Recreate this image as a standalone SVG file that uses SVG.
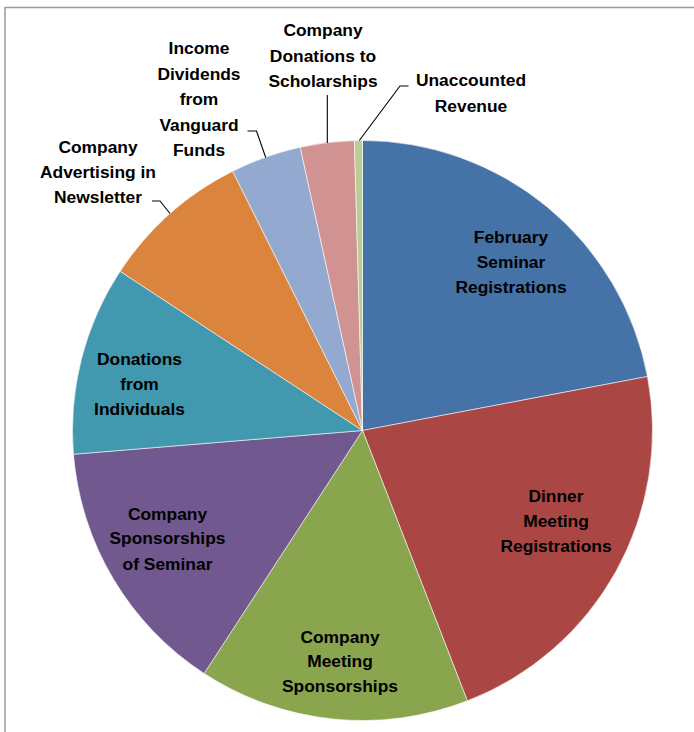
<svg xmlns="http://www.w3.org/2000/svg" width="694" height="732" viewBox="0 0 694 732">
<style>
.s{stroke:#ffffff;stroke-width:0.8;stroke-opacity:0.7;stroke-linejoin:round}
.t{font-family:"Liberation Sans",Arial,sans-serif;font-weight:bold;font-size:17.4px;fill:#000;text-anchor:middle}
.l{fill:none;stroke:#000;stroke-width:1.1}
</style>
<rect width="694" height="732" fill="#fff"/>
<path d="M5,732 V7.5 H694" fill="none" stroke="#9a9a9a" stroke-width="1.5"/>
<g id="slices">
<g id="feb"><path class="s" fill="#4572A7" d="M362.5,430.5 L362.5,140.5 A290,290 0 0 1 647.43,376.51 Z"/></g>
<g id="dinner"><path class="s" fill="#AA4643" d="M362.5,430.5 L647.43,376.51 A290,290 0 0 1 467.37,700.87 Z"/></g>
<g id="meeting"><path class="s" fill="#89A54E" d="M362.5,430.5 L467.37,700.87 A290,290 0 0 1 204.13,673.44 Z"/></g>
<g id="seminar"><path class="s" fill="#71588F" d="M362.5,430.5 L204.13,673.44 A290,290 0 0 1 73.47,454.26 Z"/></g>
<g id="individuals"><path class="s" fill="#4198AF" d="M362.5,430.5 L73.47,454.26 A290,290 0 0 1 120.12,271.28 Z"/></g>
<g id="advertising"><path class="s" fill="#DB843D" d="M362.5,430.5 L120.12,271.28 A290,290 0 0 1 232.65,171.2 Z"/></g>
<g id="vanguard"><path class="s" fill="#93A9CF" d="M362.5,430.5 L232.65,171.2 A290,290 0 0 1 300.23,147.27 Z"/></g>
<g id="scholarships"><path class="s" fill="#D19392" d="M362.5,430.5 L300.23,147.27 A290,290 0 0 1 354.4,140.61 Z"/></g>
<g id="unaccounted"><path class="s" fill="#B9CD96" d="M362.5,430.5 L354.4,140.61 A290,290 0 0 1 362.5,140.5 Z"/></g>
</g>
<g id="connectors">
<path class="l" d="M359.3,140.5 L400,86 H408.5"/>
<path class="l" d="M327.3,95 V143"/>
<path class="l" d="M265.7,157.5 L256.5,131 H247.5"/>
<path class="l" d="M170,213.5 L160,201 H152"/>
</g>
<g id="labels">
<text class="t" x="511" y="243">February</text>
<text class="t" x="511" y="268">Seminar</text>
<text class="t" x="511" y="293">Registrations</text>
<text class="t" x="556" y="502">Dinner</text>
<text class="t" x="556" y="527">Meeting</text>
<text class="t" x="556" y="552">Registrations</text>
<text class="t" x="340" y="642.5">Company</text>
<text class="t" x="340" y="667">Meeting</text>
<text class="t" x="340" y="691.5">Sponsorships</text>
<text class="t" x="167.5" y="519.5">Company</text>
<text class="t" x="167.5" y="544">Sponsorships</text>
<text class="t" x="167.5" y="569.5">of Seminar</text>
<text class="t" x="139.5" y="365">Donations</text>
<text class="t" x="139.5" y="390">from</text>
<text class="t" x="139.5" y="415">Individuals</text>
<text class="t" x="98" y="153">Company</text>
<text class="t" x="98" y="178">Advertising in</text>
<text class="t" x="98" y="203">Newsletter</text>
<text class="t" x="199" y="54">Income</text>
<text class="t" x="199" y="79.5">Dividends</text>
<text class="t" x="199" y="105">from</text>
<text class="t" x="199" y="130.5">Vanguard</text>
<text class="t" x="199" y="156">Funds</text>
<text class="t" x="323" y="36">Company</text>
<text class="t" x="323" y="61.5">Donations to</text>
<text class="t" x="323" y="87">Scholarships</text>
<text class="t" x="471" y="86">Unaccounted</text>
<text class="t" x="471" y="111.5">Revenue</text>
</g>
</svg>
